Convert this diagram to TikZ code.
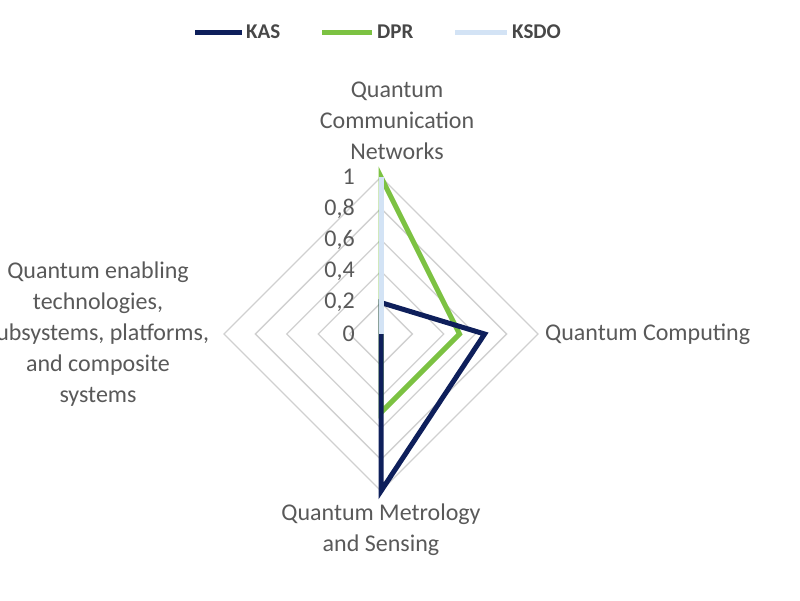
\documentclass[tikz,border=0pt]{standalone}
\usetikzlibrary{calc}
\usepackage{fontspec}
\setmainfont{Carlito}
\definecolor{kas}{HTML}{0E1F5B}
\definecolor{dpr}{HTML}{7CC242}
\definecolor{ksdo}{HTML}{D3E3F5}
\definecolor{txt}{HTML}{595959}
\definecolor{grid}{HTML}{D0D0D0}
\begin{document}
\begin{tikzpicture}[x=1pt,y=-1pt,
  lbl/.style={text=txt,font=\fontsize{24}{31}\selectfont,align=center,inner sep=0pt},
  leg/.style={text=txt!80!black,font=\fontsize{21}{25}\selectfont\bfseries,inner sep=0pt},
  gridl/.style={draw=grid,line width=1.3pt},
  ser/.style={line width=5pt,line join=miter}]
\useasboundingbox (0,0) rectangle (800,600);
\clip (0,0) rectangle (800,600);
\def\R{157}
\coordinate (c) at (381,334);
\foreach \f in {0.2,0.4,0.6,0.8,1}{
  \draw[gridl] ($(c)+(0,-\f*\R)$) -- ($(c)+(\f*\R,0)$) -- ($(c)+(0,\f*\R)$) -- ($(c)+(-\f*\R,0)$) -- cycle;
}
\foreach \v/\t in {0/0,0.2/{0,2},0.4/{0,4},0.6/{0,6},0.8/{0,8},1/1}{
  \node[lbl,anchor=east] at ($(c)+(-26,-\v*\R)$) {\t};
}
% series
\draw[ser,dpr] (c) -- ($(c)+(0,-\R)$) -- ($(c)+(0.5*\R,0)$) -- ($(c)+(0,0.5*\R)$) -- cycle;
\draw[ser,kas] (c) -- ($(c)+(0,-0.2*\R)$) -- ($(c)+(0.66*\R,0)$) -- ($(c)+(0,\R)$) -- cycle;
\draw[ser,ksdo] ($(c)+(0,-\R)$) -- (c);
% axis labels
\node[lbl] (top) at (397,121) {Quantum\\Communication\\Networks};
\node[lbl,anchor=west] (right) at (545,334) {Quantum Computing};
\node[lbl] (bot) at (381,530) {Quantum Metrology\\and Sensing};
\node[lbl] (left) at (98,334) {Quantum enabling\\technologies,\\subsystems, platforms,\\and composite\\systems};
% legend
\coordinate (l1a) at (195,32); \coordinate (l1b) at (242,32);
\draw[ser,kas] (l1a) -- (l1b);
\node[leg,anchor=west] (k1) at (246,32) {KAS};
\coordinate (l2a) at (322,32); \coordinate (l2b) at (372,32);
\draw[ser,dpr] (l2a) -- (l2b);
\node[leg,anchor=west] (k2) at (377,32) {DPR};
\coordinate (l3a) at (455,32); \coordinate (l3b) at (507,32);
\draw[ser,ksdo] (l3a) -- (l3b);
\node[leg,anchor=west] (k3) at (512,32) {KSDO};
\end{tikzpicture}
\end{document}
